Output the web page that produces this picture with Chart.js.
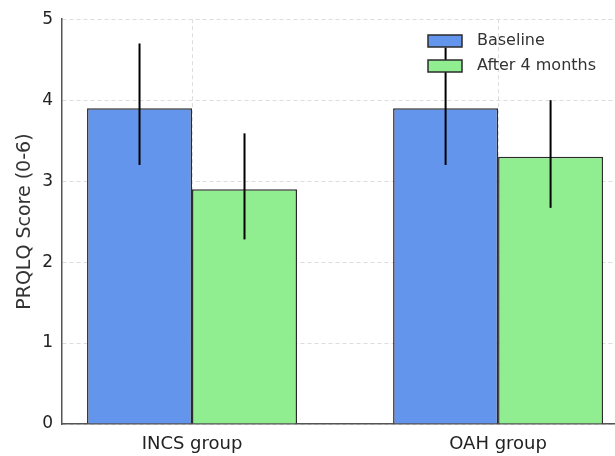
<!DOCTYPE html>
<html>
<head>
<meta charset="utf-8">
<script src="https://cdn.jsdelivr.net/npm/chart.js@4.4.1/dist/chart.umd.min.js"></script>
<style>
  html, body { margin: 0; padding: 0; background: #fff; }
  #wrap { width: 615px; height: 456px; }
</style>
</head>
<body>
<div id="wrap"><canvas id="prqlq"></canvas></div>
<script>
// chart data
const groups = ["INCS group", "OAH group"];
const seriesNames = ["Baseline", "After 4 months"];
const baseline = [3.9, 3.9];
const after4 = [2.9, 3.3];
// error bar ends (low / high)
const baselineLow = [3.2, 3.2];
const baselineHigh = [4.7, 4.65];
const afterLow = [2.28, 2.67];
const afterHigh = [3.59, 4.0];
const yTicks = [0, 1, 2, 3, 4, 5];

const colors = ["#6495ed", "#90ee90"];
const edge = "#2b2b2b";

// bars sit on a linear x scale, one position per group
function toPoints(vals) {
  return vals.map((v, i) => ({ x: i, y: v }));
}

const errLow = [baselineLow, afterLow];
const errHigh = [baselineHigh, afterHigh];

// draw the error whiskers from the y scale
const errorBars = {
  id: "errorBars",
  afterDatasetsDraw(chart) {
    const ctx = chart.ctx;
    const y = chart.scales.y;
    ctx.save();
    ctx.strokeStyle = "#000";
    ctx.lineWidth = 2;
    chart.data.datasets.forEach((ds, d) => {
      const meta = chart.getDatasetMeta(d);
      meta.data.forEach((bar, i) => {
        ctx.beginPath();
        ctx.moveTo(bar.x, y.getPixelForValue(errLow[d][i]));
        ctx.lineTo(bar.x, y.getPixelForValue(errHigh[d][i]));
        ctx.stroke();
      });
    });
    ctx.restore();
  }
};

// matplotlib-like legend in the upper right, on top of everything
const innerLegend = {
  id: "innerLegend",
  afterDraw(chart) {
    const ctx = chart.ctx;
    ctx.save();
    ctx.font = "16px 'DejaVu Sans'";
    ctx.textBaseline = "middle";
    chart.data.datasets.forEach((ds, d) => {
      const top = 35 + d * 25;
      ctx.fillStyle = ds.backgroundColor;
      ctx.fillRect(428, top, 34, 12);
      ctx.strokeStyle = edge;
      ctx.lineWidth = 1.5;
      ctx.strokeRect(428, top, 34, 12);
      ctx.fillStyle = "#333";
      ctx.fillText(ds.label, 477, top + 6);
    });
    ctx.restore();
  }
};

const gridColor = "#dddddd";

new Chart(document.getElementById("prqlq"), {
  type: "bar",
  data: {
    datasets: [
      {
        label: seriesNames[0],
        data: toPoints(baseline),
        backgroundColor: colors[0],
        borderColor: edge,
        borderWidth: 1.5
      },
      {
        label: seriesNames[1],
        data: toPoints(after4),
        backgroundColor: colors[1],
        borderColor: edge,
        borderWidth: 1.5
      }
    ]
  },
  options: {
    responsive: true,
    maintainAspectRatio: false,
    animation: false,
    categoryPercentage: 0.686,
    barPercentage: 1,
    layout: { padding: { top: 18, right: 0, left: 0, bottom: 0 } },
    plugins: {
      legend: { display: false },
      tooltip: { enabled: false }
    },
    scales: {
      x: {
        type: "linear",
        offset: false,
        min: -0.4248,
        max: 1.382,
        afterBuildTicks(scale) {
          scale.ticks = groups.map((g, i) => ({ value: i }));
        },
        afterFit(scale) { scale.height = 32; },
        grid: { color: gridColor, lineWidth: 1, drawTicks: false, offset: false },
        border: { display: true, color: "#555", width: 1.5, dash: [4, 3] },
        ticks: {
          padding: 10,
          color: "#222",
          font: { family: "DejaVu Sans", size: 18 },
          callback: (v) => groups[v]
        }
      },
      y: {
        min: 0,
        max: 5,
        afterBuildTicks(scale) {
          scale.ticks = yTicks.map((v) => ({ value: v }));
        },
        afterFit(scale) { scale.width = 62; },
        grid: { color: gridColor, lineWidth: 1, drawTicks: false },
        border: { display: true, color: "#555", width: 1.5, dash: [4, 3] },
        title: {
          display: true,
          text: "PRQLQ Score (0-6)",
          color: "#333",
          font: { family: "DejaVu Sans", size: 19 },
          padding: { top: 14, bottom: 0 }
        },
        ticks: {
          padding: 9,
          color: "#222",
          font: { family: "DejaVu Sans", size: 17 }
        }
      }
    }
  },
  plugins: [errorBars, innerLegend]
});
</script>
</body>
</html>
